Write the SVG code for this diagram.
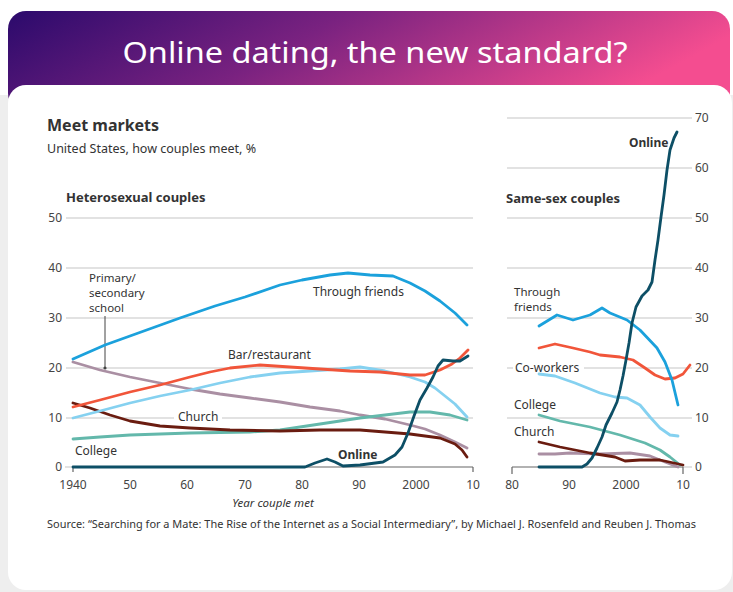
<svg xmlns="http://www.w3.org/2000/svg" width="733" height="592" viewBox="0 0 733 592">
<defs>
<linearGradient id="hdr" x1="0" y1="0" x2="1" y2="0.25">
<stop offset="0" stop-color="#2b0a6c"/>
<stop offset="0.45" stop-color="#7a2280"/>
<stop offset="1" stop-color="#f44d90"/>
</linearGradient>
<style>
.t{font-family:"Noto Sans","Liberation Sans",sans-serif;fill:#333}
.b{font-weight:bold}
.ax{font-size:12px;fill:#444}
.lab{font-size:12px}
.ml{font-size:11.5px}
.grid{stroke:#c6c6c6;stroke-width:1.2;fill:none}
.axis{stroke:#666;stroke-width:1.2;fill:none}
.ln{fill:none;stroke-width:2.8;stroke-linejoin:round;stroke-linecap:round}
.friends{stroke:#1ba1dc}
.lblue{stroke:#85d1f0}
.red{stroke:#f1553a}
.mauve{stroke:#aa8fa3}
.teal{stroke:#63b8ab}
.brown{stroke:#6a1c10}
.online{stroke:#0d4f66}
</style>
</defs>
<rect x="0" y="0" width="733" height="592" fill="#ffffff"/>
<rect x="0" y="95" width="733" height="497" fill="#eeeeee"/>
<rect x="8" y="11" width="722" height="100" rx="18" fill="url(#hdr)"/>
<rect x="8" y="85" width="724" height="505" rx="18" fill="#ffffff"/>
<text class="t" x="375" y="63" text-anchor="middle" font-size="29" style="fill:#ffffff" textLength="505" lengthAdjust="spacingAndGlyphs">Online dating, the new standard?</text>

<g id="titles">
<text class="t b" x="47" y="131" font-size="16">Meet markets</text>
<text class="t" x="47" y="153" font-size="12.5">United States, how couples meet, %</text>
<text class="t b" x="66" y="202" font-size="13">Heterosexual couples</text>
<text class="t b" x="506" y="203" font-size="13">Same-sex couples</text>
</g>

<g id="left-axes">
<path class="grid" d="M66 218H473M66 268H473M66 318H473M66 368H473M66 418H174M222 418H473M65 467H73"/>
<path class="axis" d="M73 467H473M73 467V472M473 467V472"/>
<g class="t ax" text-anchor="end">
<text x="62" y="222">50</text><text x="62" y="272">40</text><text x="62" y="322">30</text><text x="62" y="372">20</text><text x="62" y="422">10</text><text x="62" y="471">0</text>
</g>
<g class="t ax" text-anchor="middle">
<text x="73" y="489">1940</text><text x="130" y="489">50</text><text x="187" y="489">60</text><text x="245" y="489">70</text><text x="302" y="489">80</text><text x="359" y="489">90</text><text x="416" y="489">2000</text><text x="473" y="489">10</text>
</g>
<text class="t" x="273" y="507" text-anchor="middle" font-size="11.5" font-style="italic">Year couple met</text>
</g>

<g id="right-axes">
<path class="grid" d="M507 118H692M507 168H692M507 218H692M507 268H692M507 318H692M507 368H513M584 368H692M507 418H692M683 467H692"/>
<path class="axis" d="M512 467H683M512 467V474M683 467V474"/>
<g class="t ax">
<text x="695" y="122">70</text><text x="695" y="172">60</text><text x="695" y="222">50</text><text x="695" y="272">40</text><text x="695" y="322">30</text><text x="695" y="372">20</text><text x="695" y="422">10</text><text x="695" y="471">0</text>
</g>
<g class="t ax" text-anchor="middle">
<text x="512" y="489">80</text><text x="569" y="489">90</text><text x="626" y="489">2000</text><text x="683" y="489">10</text>
</g>
</g>

<g id="connectors">
<line x1="105" y1="316" x2="105" y2="368" stroke="#444" stroke-width="1"/>
<circle cx="105" cy="368" r="1.6" fill="#444"/>
</g>

<g id="hetero-lines">
<polyline class="ln mauve" points="73,362 100,370 130,377 160,383 190,389 220,394 250,398 280,402 310,407 340,411 360,415 385,419 410,425 425,429 440,435 455,442 467,448"/>
<polyline class="ln teal" points="73,439 100,437 130,435 160,434 190,433 250,432 280,430 300,427 320,424 340,421 360,418 385,415 410,412 430,412 450,415 467,420"/>
<polyline class="ln brown" points="73,403 90,408 110,415 130,421 160,426 190,428 230,430 280,431 320,430 360,430 385,432 410,434 440,438 455,444 462,450 467,457"/>
<polyline class="ln lblue" points="73,418 100,411 130,403 160,396 190,390 220,383 250,377 280,373 310,371 340,369 360,367 385,371 410,377 425,382 435,388 445,396 455,404 467,417"/>
<polyline class="ln red" points="73,407 100,400 130,392 160,385 190,377 210,372 230,368 260,365 290,367 320,369 350,371 380,372 410,375 425,375 440,370 452,364 460,358 468,350"/>
<polyline class="ln friends" points="73,359 105,345 130,336 155,327 180,318 215,306 245,297 280,285 302,280 330,275 348,273 370,275 393,276 410,283 425,291 440,301 455,313 467,325"/>
<polyline class="ln online" points="73,467 305,467 315,463 327,459 335,462 343,466 360,465 383,462 395,455 402,447 408,433 414,416 420,400 427,388 433,377 438,366 443,360 453,361 460,361 468,356"/>
</g>

<g id="samesex-lines">
<polyline class="ln mauve" points="539,454 555,454 570,453 600,454 630,453 650,456 665,462 678,467"/>
<polyline class="ln teal" points="539,415 560,421 590,427 620,435 645,443 660,450 670,457 680,465"/>
<polyline class="ln brown" points="539,442 560,447 590,453 615,457 625,461 640,460 660,460 683,465"/>
<polyline class="ln lblue" points="539,374 555,376 575,383 600,393 615,397 627,398 640,405 650,417 660,428 670,435 678,436"/>
<polyline class="ln red" points="539,348 555,344 573,348 590,352 600,355 620,357 633,360 645,368 655,375 665,379 675,378 683,374 690,365"/>
<polyline class="ln friends" points="539,326 557,315 573,320 590,315 602,308 610,313 627,320 640,330 657,348 665,362 672,380 678,405"/>
<polyline class="ln online" points="539,467 582,467 587,464 592,458 597,448 602,437 606,425 612,413 617,402 620,390 623,376 626,360 629,343 632,323 636,307 642,296 648,290 652,282 655,260 658,240 661,217 664,195 667,170 670,150 674,138 677,132"/>
</g>

<g id="labels">
<g id="lbl-school"><text class="t ml" x="89" y="282">Primary/</text><text class="t ml" x="89" y="297">secondary</text><text class="t ml" x="89" y="312">school</text></g>
<g id="lbl-friends"><text class="t lab" x="313" y="296">Through friends</text></g>
<g id="lbl-bar"><text class="t lab" x="228" y="359">Bar/restaurant</text></g>
<g id="lbl-church"><text class="t lab" x="178" y="421">Church</text></g>
<g id="lbl-college"><text class="t lab" x="75" y="455">College</text></g>
<g id="lbl-online"><text class="t lab b" x="338" y="459">Online</text></g>
<g id="lbl-online2"><text class="t lab b" x="629" y="147">Online</text></g>
<g id="lbl-friends2"><text class="t ml" x="514" y="296">Through</text><text class="t ml" x="514" y="311">friends</text></g>
<g id="lbl-cowork"><text class="t lab" x="515" y="372">Co-workers</text></g>
<g id="lbl-college2"><text class="t lab" x="514" y="409">College</text></g>
<g id="lbl-church2"><text class="t lab" x="514" y="436">Church</text></g>
</g>

<text class="t" x="47" y="528" font-size="11" textLength="649" lengthAdjust="spacingAndGlyphs">Source: “Searching for a Mate: The Rise of the Internet as a Social Intermediary”, by Michael J. Rosenfeld and Reuben J. Thomas</text>
</svg>
